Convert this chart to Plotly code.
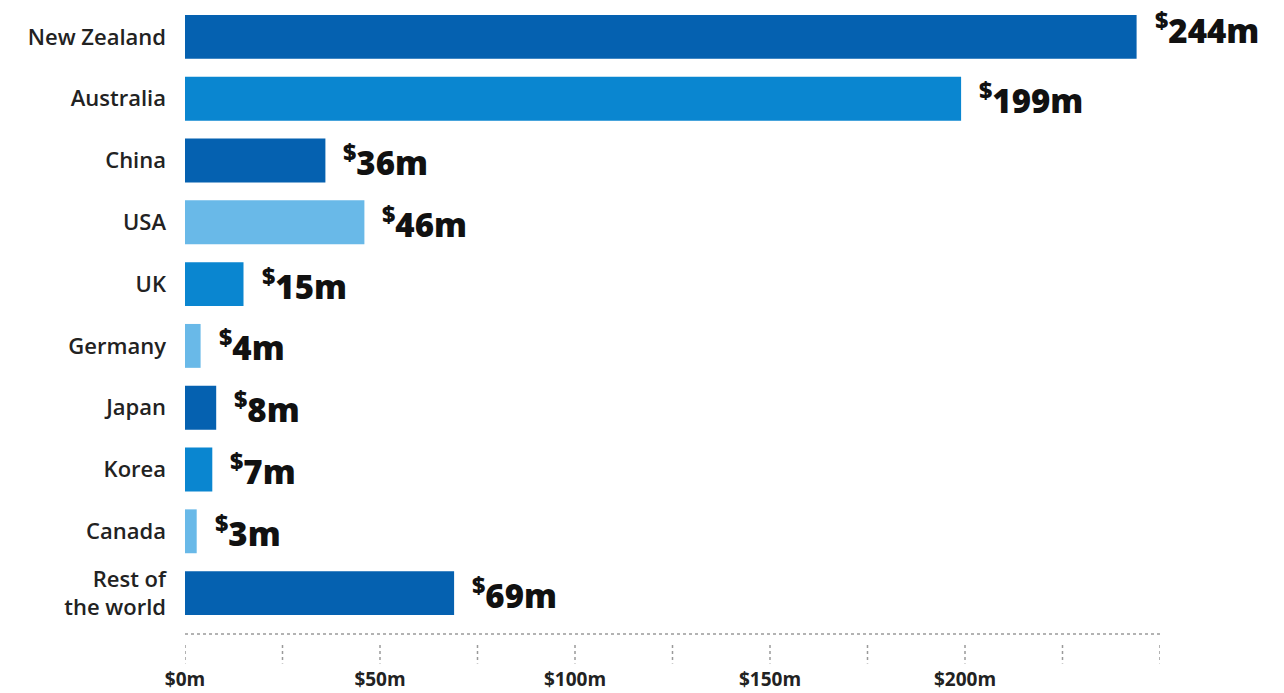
import plotly.graph_objects as go

# Values by destination, $ millions
countries = ["New Zealand", "Australia", "China", "USA", "UK", "Germany",
             "Japan", "Korea", "Canada", "Rest of<br>the world"]
values = [244, 199, 36, 46, 15, 4, 8, 7, 3, 69]
shades = ["dark", "mid", "dark", "light", "mid", "light", "dark", "mid", "light", "dark"]

tick_vals = [0, 50, 100, 150, 200]
tick_text = ["$0m", "$50m", "$100m", "$150m", "$200m"]
minor_ticks = [0, 25, 50, 75, 100, 125, 150, 175, 200, 225, 250]

palette = {"dark": "#0561b0", "mid": "#0a86d0", "light": "#69b9e8"}
colors = [palette[s] for s in shades]
x_max = 250

fig = go.Figure(go.Bar(
    x=values, y=countries, orientation="h",
    marker=dict(color=colors, line=dict(width=0)),
    hoverinfo="skip",
))

# Value labels to the right of each bar
for i, (c, v) in enumerate(zip(countries, values)):
    fig.add_annotation(
        x=v, y=c, xref="x", yref="y",
        text=f"<sup>$</sup>{v}m",
        showarrow=False, xanchor="left", yanchor="middle",
        xshift=16, yshift=8 if i == 0 else 0,
        font=dict(family="Open Sans", size=33, color="#111111", weight=800),
    )

# Dotted baseline and tick marks below the plot
fig.add_shape(type="line", xref="x", yref="paper",
              x0=0, x1=x_max, y0=-0.016, y1=-0.016,
              line=dict(color="#9a9a9a", width=1.5, dash="dot"))
for t in minor_ticks:
    fig.add_shape(type="line", xref="x", yref="paper",
                  x0=t, x1=t, y0=-0.034, y1=-0.064,
                  line=dict(color="#9a9a9a", width=1.5, dash="dot"))

fig.update_layout(
    width=1284, height=693,
    margin=dict(l=185, r=124, t=6, b=69),
    paper_bgcolor="white", plot_bgcolor="white",
    bargap=0.29, showlegend=False,
    xaxis=dict(range=[0, x_max], tickvals=tick_vals, ticktext=tick_text,
               showgrid=False, zeroline=False, showline=False, ticks="",
               ticklabelstandoff=42, automargin=False,
               tickfont=dict(family="Open Sans", size=19, color="#222222", weight=700)),
    yaxis=dict(autorange="reversed", showgrid=False, zeroline=False,
               showline=False, ticks="", ticklabelstandoff=18, automargin=False,
               tickfont=dict(family="Open Sans", size=22, color="#222222", weight=600)),
)

fig.write_html("out.html")
